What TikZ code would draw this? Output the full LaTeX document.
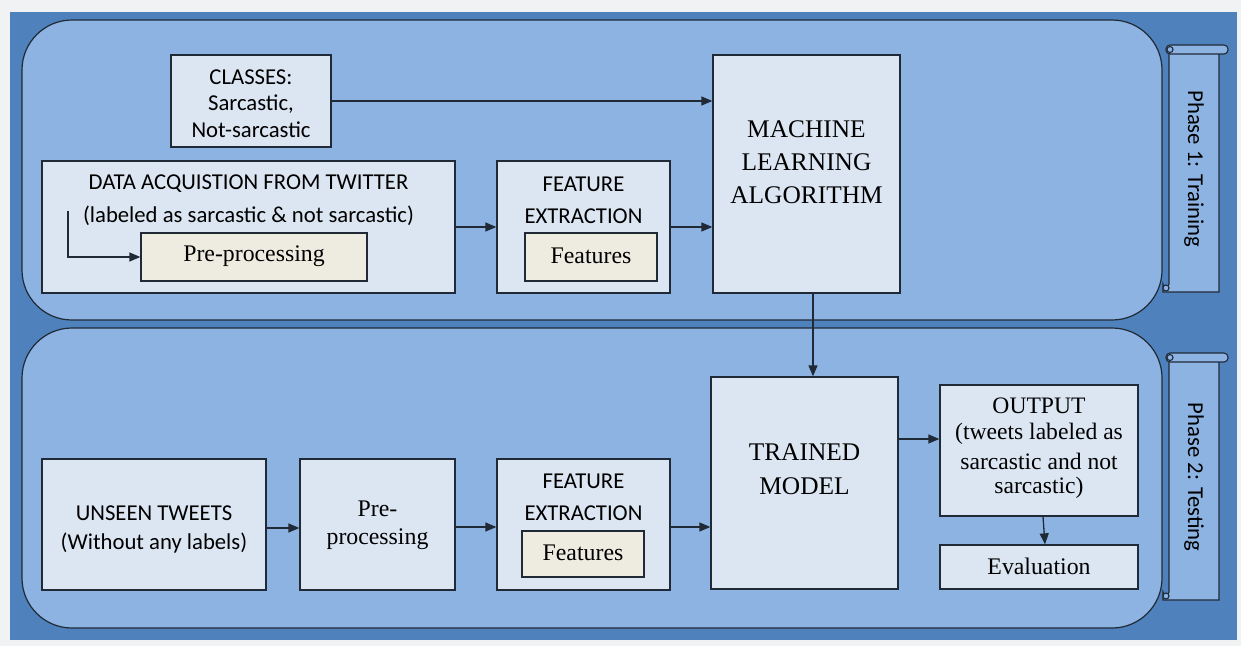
\documentclass[tikz,border=0pt]{standalone}
\usepackage{fontspec}
\setmainfont{Liberation Serif}
\newfontfamily\calib{Carlito}
\usetikzlibrary{arrows.meta}
\definecolor{bggray}{HTML}{F1F2F4}
\definecolor{darkblue}{HTML}{4F81BD}
\definecolor{regionblue}{HTML}{8DB3E2}
\definecolor{boxblue}{HTML}{DCE6F2}
\definecolor{innerbeige}{HTML}{EEECE1}
\definecolor{edge}{HTML}{1F2A36}
\tikzset{
  region/.style={draw=edge, line width=1.2pt, fill=regionblue, rounded corners=50pt},
  bx/.style={draw=edge, line width=1.3pt, fill=boxblue, inner sep=0pt},
  inbx/.style={draw=edge, line width=1.3pt, fill=innerbeige, inner sep=0pt},
  sans/.style={font=\calib\fontsize{22.7}{27}\selectfont, text=black, inner sep=0pt},
  serif/.style={font=\fontsize{23.8}{28}\selectfont, text=black, inner sep=0pt},
  outtxt/.style={font=\fontsize{23.6}{28}\selectfont, text=black, inner sep=0pt},
  big/.style={font=\fontsize{25.4}{30}\selectfont, text=black, inner sep=0pt},
  arr/.style={line width=1.3pt, draw=edge, -{Triangle[length=11pt,width=9pt]}},
  scroll/.style={draw=edge, line width=1.1pt, fill=regionblue},
}
\begin{document}
\begin{tikzpicture}[x=1pt,y=-1pt]
\useasboundingbox (0,0) rectangle (1241,646);
\fill[bggray] (0,0) rectangle (1241,646);
\fill[darkblue] (10,12) rectangle (1237,640);
% regions
\draw[region] (22,20) rectangle (1162,320);
\draw[region] (22,328) rectangle (1162,628);
% scrolls
\foreach \t/\b/\lab/\ty in {45/292/{Phase 1: Training}/169, 353/600/{Phase 2: Testing}/477}{
  \draw[scroll] (1169,\t+4) -- (1169,\b-8) arc[start angle=0,end angle=180,radius=3] -- (1163,\b) -- (1219,\b) -- (1219,\t+8) -- cycle;
  \draw[scroll, rounded corners=4pt] (1166,\t) rectangle (1228,\t+9);
  \draw[scroll] (1170,\t+4.5) circle[radius=3];
  \draw[scroll] (1166,\b-4) circle[radius=3];
  \node[sans, rotate=-90] at (1194,\ty) {\lab};
}
% phase 1 boxes
\node[bx, minimum width=160pt, minimum height=92pt] (cls) at (251,101) {};
\node[sans] at (251,77) {CLASSES:};
\node[sans] at (251,104) {Sarcastic,};
\node[sans] at (251,130) {Not-sarcastic};
\node[bx, minimum width=413pt, minimum height=132pt] (daq) at (248.5,227) {};
\node[sans] at (248.5,184) {DATA ACQUISTION FROM TWITTER};
\node[sans] at (248.5,216) {(labeled as sarcastic \& not sarcastic)};
\node[inbx, minimum width=226pt, minimum height=48pt] (pre1) at (254,257) {};
\node[serif] at (254,256) {Pre-processing};
\node[bx, minimum width=173pt, minimum height=132pt] (fe1) at (583.5,227) {};
\node[sans] at (583.5,184) {FEATURE};
\node[sans] at (583.5,216) {EXTRACTION};
\node[inbx, minimum width=132pt, minimum height=48pt] (feat1) at (591,257) {};
\node[serif] at (591,256) {Features};
\node[bx, minimum width=187pt, minimum height=238pt] (ml) at (806.5,174) {};
\node[big] at (806.5,129) {MACHINE};
\node[big] at (806.5,162) {LEARNING};
\node[big] at (806.5,195) {ALGORITHM};
% phase 2 boxes
\node[bx, minimum width=187pt, minimum height=212pt] (tm) at (804.5,483) {};
\node[big] at (804.5,452) {TRAINED};
\node[big] at (804.5,486) {MODEL};
\node[bx, minimum width=198pt, minimum height=131pt] (out) at (1039,450.5) {};
\node[outtxt] at (1039,406) {OUTPUT};
\node[outtxt] at (1039,434) {(tweets labeled as};
\node[outtxt] at (1039,461) {sarcastic and not};
\node[outtxt] at (1039,488) {sarcastic)};
\node[bx, minimum width=198pt, minimum height=44pt] (eval) at (1039,567) {};
\node[serif] at (1039,566) {Evaluation};
\node[bx, minimum width=224pt, minimum height=131pt] (uns) at (154,524.5) {};
\node[sans] at (154,513) {UNSEEN TWEETS};
\node[sans] at (154,543) {(Without any labels)};
\node[bx, minimum width=155pt, minimum height=131pt] (pre2) at (377.5,524.5) {};
\node[serif] at (377.5,509) {Pre-};
\node[serif] at (377.5,539) {processing};
\node[bx, minimum width=173pt, minimum height=131pt] (fe2) at (583.5,524.5) {};
\node[sans] at (583.5,481) {FEATURE};
\node[sans] at (583.5,513) {EXTRACTION};
\node[inbx, minimum width=122pt, minimum height=46pt] (feat2) at (583,554) {};
\node[serif] at (583,553) {Features};
% connectors
\coordinate (elb) at (68,211);
\draw[arr] (elb) |- (pre1.west);
\draw[arr] (cls.east) -- (cls.east -| ml.west);
\draw[arr] (daq.east) -- (fe1.west);
\draw[arr] (fe1.east) -- (fe1.east -| ml.west);
\draw[arr] ([xshift=6.5pt]ml.south) -- ([xshift=8.5pt]tm.north);
\draw[arr] ([yshift=11.5pt]out.west -| tm.east) -- ([yshift=11.5pt]out.west);
\draw[arr] ([xshift=4pt]out.south) -- ([xshift=6pt]eval.north);
\draw[arr] ([yshift=-3.5pt]uns.east) -- ([yshift=-3.5pt]pre2.west);
\draw[arr] ([yshift=-2.5pt]pre2.east) -- ([yshift=-2.5pt]fe2.west);
\draw[arr] ([yshift=-2.5pt]fe2.east) -- ([yshift=-2.5pt]fe2.east -| tm.west);
\end{tikzpicture}
\end{document}
